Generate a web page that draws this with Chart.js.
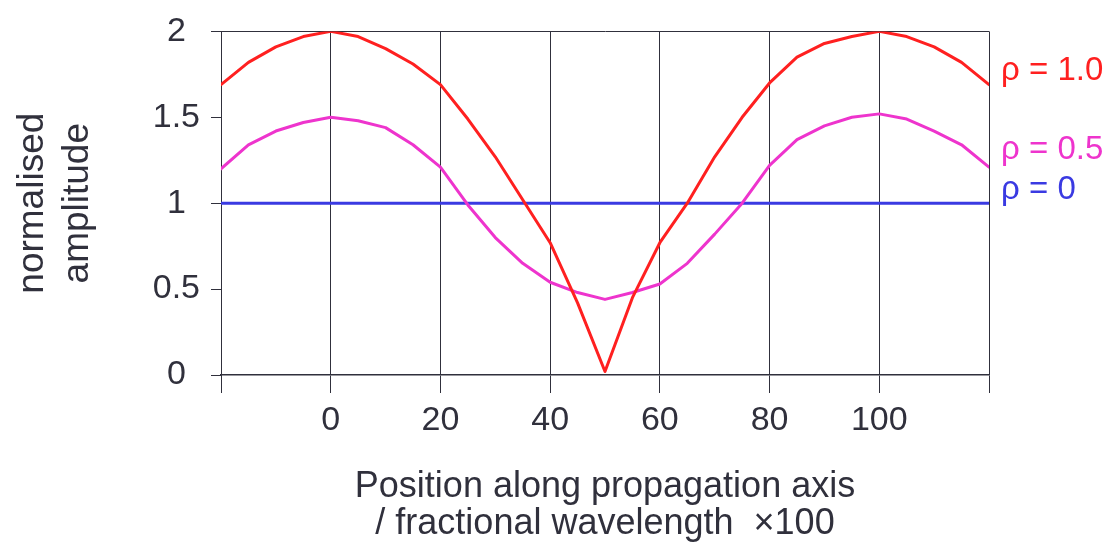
<!DOCTYPE html>
<html>
<head>
<meta charset="utf-8">
<title>Standing wave amplitude</title>
<script src="https://cdn.jsdelivr.net/npm/chart.js@4/dist/chart.umd.min.js"></script>
<style>
  html, body { margin: 0; padding: 0; background: #ffffff; }
  canvas { display: block; }
</style>
</head>
<body>
<canvas id="chart" width="1115" height="543"></canvas>
<script>
// Position along the propagation axis (fraction of a wavelength x100)
const positions = [-20, -15, -10, -5, 0, 5, 10, 15, 20, 25, 30, 35, 40, 45, 50,
                   55, 60, 65, 70, 75, 80, 85, 90, 95, 100, 105, 110, 115, 120];

// Normalised amplitude for each reflection coefficient
const ampRho10 = [1.69, 1.82, 1.91, 1.97, 2.00, 1.97, 1.90, 1.81, 1.69, 1.49, 1.27, 1.02, 0.77, 0.42, 0.02,
                  0.45, 0.77, 1.00, 1.27, 1.50, 1.70, 1.85, 1.93, 1.97, 2.00, 1.97, 1.91, 1.82, 1.69];
const ampRho05 = [1.20, 1.34, 1.42, 1.47, 1.50, 1.48, 1.44, 1.34, 1.21, 0.99, 0.80, 0.65, 0.54, 0.48, 0.44,
                  0.48, 0.53, 0.65, 0.82, 1.00, 1.22, 1.37, 1.45, 1.50, 1.52, 1.49, 1.42, 1.34, 1.21];
const ampRho0  = [1.00, 1.00, 1.00, 1.00, 1.00, 1.00, 1.00, 1.00, 1.00, 1.00, 1.00, 1.00, 1.00, 1.00, 1.00,
                  1.00, 1.00, 1.00, 1.00, 1.00, 1.00, 1.00, 1.00, 1.00, 1.00, 1.00, 1.00, 1.00, 1.00];

// Series names
const seriesNames = ['\u03c1 = 1.0', '\u03c1 = 0.5', '\u03c1 = 0'];

// Tick labels
const xTickValues = [-20, 0, 20, 40, 60, 80, 100, 120];
const xTickLabels = ['', '0', '20', '40', '60', '80', '100', ''];
const yTickValues = [0, 0.5, 1, 1.5, 2];
const yTickLabels = ['0', '0.5', '1', '1.5', '2'];

const RED = 'rgb(255, 32, 32)';
const PINK = 'rgb(238, 52, 205)';
const BLUE = 'rgb(58, 58, 226)';
const INK = '#30303c';
const FONT = "'Liberation Sans', Arial, Helvetica, sans-serif";

const toPoints = (ys) => positions.map((x, i) => ({ x: x, y: ys[i] }));

// Series names written at the right of the plot, in each line's colour
const sideLabels = {
  id: 'sideLabels',
  afterDraw(chart, args, opts) {
    const ctx = chart.ctx;
    const yScale = chart.scales.y;
    ctx.save();
    ctx.font = opts.size + 'px ' + FONT;
    ctx.textAlign = 'left';
    ctx.textBaseline = 'middle';
    chart.data.datasets.forEach((ds, i) => {
      ctx.fillStyle = ds.borderColor;
      ctx.fillText(ds.label, chart.chartArea.right + opts.gap, yScale.getPixelForValue(opts.anchors[i]));
    });
    ctx.restore();
  }
};

new Chart(document.getElementById('chart'), {
  type: 'line',
  data: {
    datasets: [
      { label: seriesNames[0], data: toPoints(ampRho10), borderColor: RED,  borderWidth: 3 },
      { label: seriesNames[1], data: toPoints(ampRho05), borderColor: PINK, borderWidth: 3 },
      { label: seriesNames[2], data: toPoints(ampRho0),  borderColor: BLUE, borderWidth: 3 }
    ]
  },
  options: {
    responsive: false,
    animation: false,
    devicePixelRatio: 1,
    layout: { padding: { top: 30, right: 126, bottom: 0, left: 0 } },
    elements: {
      point: { radius: 0, hoverRadius: 0 },
      line: { tension: 0, fill: false, borderCapStyle: 'round', borderJoinStyle: 'round' }
    },
    plugins: {
      legend: { display: false },
      tooltip: { enabled: false },
      sideLabels: { size: 33, gap: 12, anchors: [1.77, 1.31, 1.075] }
    },
    scales: {
      x: {
        type: 'linear',
        min: -20,
        max: 120,
        afterFit(scale) { scale.height = 168; },
        afterBuildTicks(scale) { scale.ticks = xTickValues.map(v => ({ value: v })); },
        ticks: {
          autoSkip: false,
          maxRotation: 0,
          padding: 7,
          color: INK,
          font: { family: FONT, size: 34 },
          callback: (v) => xTickLabels[xTickValues.indexOf(v)]
        },
        grid: {
          color: INK,
          lineWidth: 1,
          tickLength: 18,
          tickColor: INK,
          drawOnChartArea: true
        },
        border: { display: true, color: INK, width: 1.5 },
        title: {
          display: true,
          text: ['Position along propagation axis', '/ fractional wavelength  \u00d7100'],
          color: INK,
          font: { family: FONT, size: 36, lineHeight: '37px' },
          padding: { top: 0, bottom: 0 }
        }
      },
      y: {
        type: 'linear',
        min: 0,
        max: 2,
        afterFit(scale) { scale.width = 221; },
        afterBuildTicks(scale) { scale.ticks = yTickValues.map(v => ({ value: v })); },
        ticks: {
          padding: 11,
          crossAlign: 'center',
          color: INK,
          font: { family: FONT, size: 34 },
          callback: (v) => yTickLabels[yTickValues.indexOf(v)]
        },
        grid: {
          color: (c) => (c.tick && c.tick.value === 2 ? INK : 'rgba(0,0,0,0)'),
          lineWidth: 1,
          tickLength: 10,
          tickColor: INK,
          drawOnChartArea: true
        },
        border: { display: true, color: INK, width: 1 },
        title: {
          display: true,
          text: ['normalised', 'amplitude'],
          color: INK,
          font: { family: FONT, size: 37, lineHeight: '45px' },
          padding: { top: 10, bottom: 0 }
        }
      }
    }
  },
  plugins: [sideLabels]
});
</script>
</body>
</html>
